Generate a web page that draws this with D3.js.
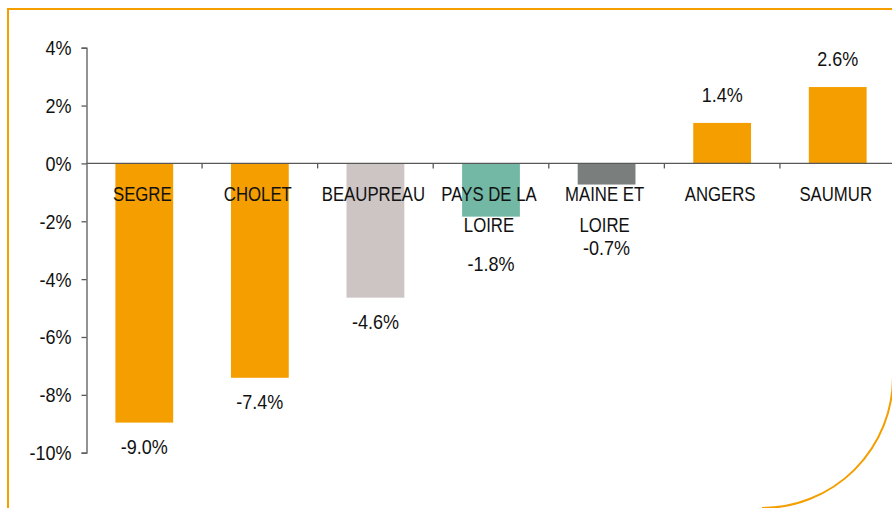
<!DOCTYPE html>
<html>
<head>
<meta charset="utf-8">
<script src="https://cdn.jsdelivr.net/npm/d3@7"></script>
<style>
    html, body { margin: 0; padding: 0; background: #fff; }
    svg { display: block; }
    text { font-family: "Liberation Sans", Arial, sans-serif; fill: #111; }
</style>
</head>
<body>
<svg class="svg"></svg>
<script>
const categories = ['SEGRE', 'CHOLET', 'BEAUPREAU', 'PAYS DE LA LOIRE', 'MAINE ET LOIRE', 'ANGERS', 'SAUMUR'];
const categoryLines = [['SEGRE'], ['CHOLET'], ['BEAUPREAU'], ['PAYS DE LA', 'LOIRE'], ['MAINE ET', 'LOIRE'], ['ANGERS'], ['SAUMUR']];
const values = [-8.96, -7.41, -4.64, -1.84, -0.73, 1.40, 2.64];
const tickValues = [-10, -8, -6, -4, -2, 0, 2, 4];

function drawChart () {
    const width = 892;
    const height = 508;
    const colors = {
        'SEGRE': '#f49e00',
        'CHOLET': '#f49e00',
        'BEAUPREAU': '#cdc4c4',
        'PAYS DE LA LOIRE': '#72b8a5',
        'MAINE ET LOIRE': '#7a7e7d',
        'ANGERS': '#f49e00',
        'SAUMUR': '#f49e00'
    };
    // labels that Excel pushed under the category text
    const labelNudge = { 'PAYS DE LA LOIRE': 23, 'MAINE ET LOIRE': 39 };

    const svg = d3.select('.svg')
        .attr('width', width)
        .attr('height', height);

    /* frame */
    svg.append('path')
        .attr('d', 'M8,510 L8,9 L893,9 L893,377 A131,131 0 0 1 762,508')
        .attr('fill', 'none')
        .attr('stroke', '#f49e00')
        .attr('stroke-width', 2);

    /* SCALES */
    const xScale = d3.scaleBand()
        .domain(categories)
        .range([86.5, 895.5])
        .paddingInner(0.5)
        .paddingOuter(0.25);
    const yScale = d3.scaleLinear()
        .domain([-10, 4])
        .range([452.7, 47.7]);

    const scaledText = (g, x, y, str, size, sx, anchor) => g.append('text')
        .attr('transform', `translate(${x},${y}) scale(${sx},1)`)
        .attr('text-anchor', anchor || 'middle')
        .style('font-size', `${size}px`)
        .text(str);

    /* bars */
    svg.selectAll('rect.bar')
        .data(values).enter()
        .append('rect')
        .attr('class', 'bar')
        .attr('x', (d, i) => xScale(categories[i]))
        .attr('width', xScale.bandwidth())
        .attr('y', d => yScale(Math.max(0, d)))
        .attr('height', d => Math.abs(yScale(d) - yScale(0)))
        .attr('fill', (d, i) => colors[categories[i]]);

    /* Y AXIS */
    const yAxis = d3.axisLeft(yScale)
        .tickValues(tickValues)
        .tickSize(5)
        .tickFormat(d => d + '%');
    const yg = svg.append('g')
        .attr('transform', 'translate(86.5,0)')
        .call(yAxis);
    yg.select('.domain').attr('stroke', '#595959').attr('stroke-width', 1.3);
    yg.selectAll('.tick line').attr('stroke', '#595959').attr('stroke-width', 1.3);
    yg.selectAll('.tick text').remove();
    tickValues.forEach(v => scaledText(yg, -15, yScale(v) + 7.5, v + '%', 20, 0.9, 'end'));

    /* zero line + category ticks */
    const zero = yScale(0);
    svg.append('line')
        .attr('x1', 86.5).attr('x2', width)
        .attr('y1', zero).attr('y2', zero)
        .attr('stroke', '#595959')
        .attr('stroke-width', 1.3);
    const step = xScale.step();
    svg.selectAll('line.cat-tick')
        .data(d3.range(1, categories.length + 1)).enter()
        .append('line')
        .attr('class', 'cat-tick')
        .attr('x1', i => 86.5 + i * step).attr('x2', i => 86.5 + i * step)
        .attr('y1', zero).attr('y2', zero + 5)
        .attr('stroke', '#595959')
        .attr('stroke-width', 1.3);

    /* category labels */
    const labels = svg.append('g');
    categories.forEach((c, i) => {
        const cx = xScale(c) + xScale.bandwidth() / 2;
        categoryLines[i].forEach((line, j) => {
            scaledText(labels, cx - 2, 201 + j * 31, line, 19.5, 0.86);
        });
    });

    /* value labels */
    values.forEach((v, i) => {
        const c = categories[i];
        const cx = xScale(c) + xScale.bandwidth() / 2;
        const y = v >= 0 ? yScale(v) - 21 : yScale(v) + 31 + (labelNudge[c] || 0);
        scaledText(labels, cx, y, v.toFixed(1) + '%', 20, 0.9);
    });
}

document.addEventListener('DOMContentLoaded', () => drawChart());
</script>
</body>
</html>
